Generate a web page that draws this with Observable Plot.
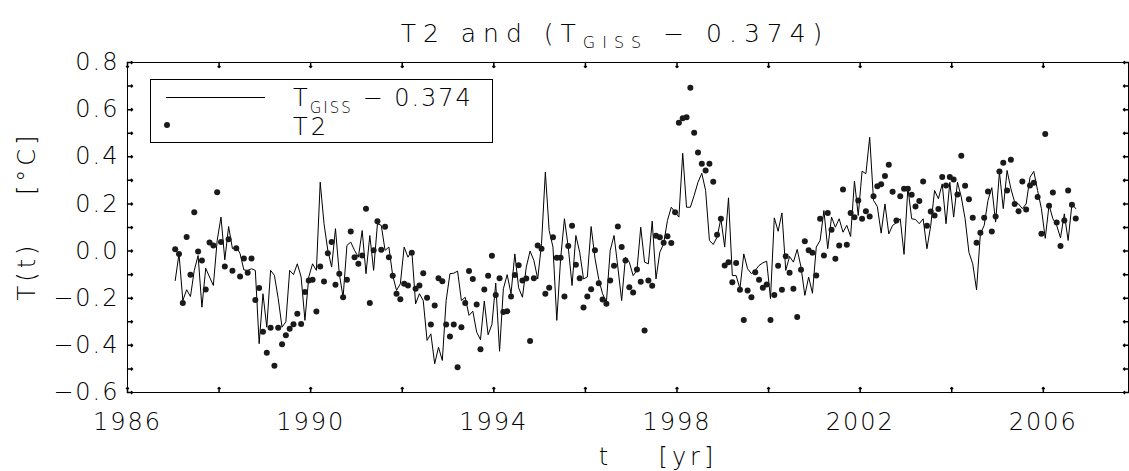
<!DOCTYPE html>
<html><head><meta charset="utf-8">
<script src="https://cdn.jsdelivr.net/npm/d3@7"></script>
<script src="https://cdn.jsdelivr.net/npm/@observablehq/plot@0.6"></script>
<style>
body{margin:0;background:#fff;}
#wrap{position:relative;width:1129px;height:471px;}
#wrap svg{letter-spacing:2px;}
</style></head><body><div id="wrap"></div>
<script>
// monthly series starting January of startYear
const startYear = 1987;
const gissMinus = [
-0.125,-0.012,-0.21,-0.164,-0.193,-0.082,-0.019,-0.238,-0.073,-0.11,-0.146,0.045,
0.144,-0.037,0.104,0.01,0.02,-0.011,-0.08,-0.082,-0.075,-0.082,-0.393,-0.181,
-0.323,-0.082,-0.103,-0.202,-0.323,-0.30,-0.082,-0.10,-0.054,-0.11,-0.294,-0.11,
-0.054,-0.082,0.292,0.116,0.003,-0.068,0.095,-0.096,-0.196,0.024,0.038,0.003,
-0.026,0.087,-0.096,0.066,-0.082,0.116,0.109,0.003,0.017,-0.104,-0.167,-0.139,
0.017,-0.026,0.003,-0.224,-0.181,-0.21,-0.379,-0.351,-0.478,-0.408,-0.464,-0.21,
-0.096,-0.094,-0.085,-0.21,-0.196,-0.273,-0.255,-0.344,-0.376,-0.212,-0.355,-0.311,
-0.136,-0.425,-0.16,-0.10,-0.181,-0.012,-0.156,-0.196,-0.068,0.0,-0.04,-0.118,
0.031,0.335,0.087,0.017,-0.294,-0.033,0.137,0.017,-0.146,0.066,-0.005,-0.118,
-0.11,0.104,-0.03,-0.12,-0.181,-0.217,0.003,0.066,-0.068,-0.21,-0.026,-0.047,
-0.104,-0.082,0.101,-0.047,-0.054,0.127,-0.118,-0.005,0.031,0.13,0.186,0.165,
0.144,0.415,0.186,0.186,0.236,0.292,0.33,0.257,0.045,0.028,0.059,0.137,
0.017,0.226,-0.104,-0.104,-0.16,-0.012,-0.075,-0.096,-0.082,-0.061,-0.05,-0.043,
-0.202,0.141,0.084,0.162,-0.082,-0.023,-0.047,0.007,-0.068,-0.188,-0.11,-0.179,
0.017,0.045,0.172,0.01,0.144,0.101,0.137,0.08,0.109,0.062,0.297,0.151,
0.339,0.328,0.483,0.215,0.189,0.076,0.2,0.073,0.109,0.12,0.137,-0.014,
0.269,0.137,0.134,0.116,0.137,0.01,0.109,0.257,0.222,0.285,0.116,0.292,
0.144,0.292,0.229,0.137,-0.005,-0.054,-0.164,0.073,0.109,0.215,0.269,0.123,
0.335,0.18,0.342,0.264,0.207,0.2,0.18,0.2,0.313,0.338,0.257,0.18,
0.054,0.195,0.137,0.109,0.056,0.158,0.045,0.2,0.18
];
const t2 = [
0.008,-0.012,-0.22,0.06,-0.10,0.165,-0.002,-0.04,-0.163,0.036,0.024,0.25,
0.038,-0.065,0.05,-0.084,0.012,-0.108,-0.031,-0.092,-0.031,-0.208,-0.157,-0.342,
-0.431,-0.325,-0.487,-0.325,-0.395,-0.357,-0.33,-0.31,-0.266,-0.309,-0.174,-0.125,
-0.122,-0.256,-0.065,-0.129,-0.009,0.038,-0.143,-0.096,-0.196,-0.122,0.083,-0.026,
-0.054,-0.019,0.18,-0.22,0.003,0.126,0.006,0.103,-0.026,-0.105,-0.181,-0.204,
-0.139,-0.146,-0.007,-0.16,-0.146,-0.094,-0.198,-0.311,-0.231,-0.115,-0.128,-0.311,
-0.362,-0.311,-0.493,-0.323,-0.22,-0.085,-0.118,-0.227,-0.416,-0.163,-0.105,-0.02,
-0.186,-0.115,-0.258,-0.255,-0.193,-0.102,-0.06,-0.125,-0.116,-0.382,-0.115,0.024,
0.01,-0.181,-0.156,0.059,-0.028,-0.028,-0.193,0.021,0.107,-0.058,-0.115,-0.239,
-0.193,-0.162,0.003,-0.136,-0.205,-0.224,-0.125,-0.062,0.104,0.017,-0.04,-0.153,
-0.176,-0.078,-0.13,-0.337,-0.125,-0.147,0.065,0.059,0.035,0.063,0.034,0.165,
0.544,0.564,0.568,0.693,0.502,0.418,0.37,0.342,0.37,0.294,0.069,0.137,
-0.061,-0.047,-0.132,-0.051,-0.164,-0.292,-0.167,-0.196,-0.09,-0.122,-0.156,-0.142,
-0.292,-0.186,-0.062,-0.164,-0.022,-0.092,-0.16,-0.28,-0.079,0.042,0.003,-0.007,
-0.104,0.137,-0.019,0.161,0.09,-0.033,0.024,0.261,0.027,0.162,0.144,0.215,
0.137,0.169,0.147,0.233,0.275,0.283,0.319,0.366,0.252,0.13,0.233,0.264,
0.264,0.239,0.189,0.212,0.295,0.107,0.168,0.151,0.178,0.314,0.278,0.314,
0.304,0.24,0.404,0.277,0.22,0.141,0.035,0.078,0.141,0.253,0.083,0.147,
0.338,0.375,0.257,0.387,0.2,0.169,0.295,0.176,0.278,0.29,0.229,0.073,
0.497,0.192,0.249,0.121,0.021,0.13,0.257,0.196,0.138
];
const xDomain = [1986, 2007.86];
const yDomain = [-0.6, 0.8];
const xTickLabels = [1986, 1990, 1994, 1998, 2002, 2006];
const xMinorTicks = [1986, 1988, 1990, 1992, 1994, 1996, 1998, 2000, 2002, 2004, 2006];
const yTickLabels = [-0.6, -0.4, -0.2, 0.0, 0.2, 0.4, 0.6, 0.8];
const yMinorTicks = [-0.6,-0.5,-0.4,-0.3,-0.2,-0.1,0,0.1,0.2,0.3,0.4,0.5,0.6,0.7,0.8];
const gissLabel = ["T", "GISS", " − 0.374"];
const t2Label = "T2";

const rows = gissMinus.map((v, i) => ({t: startYear + (i + 0.5) / 12, giss: v, t2: t2[i]}));

const FONT = "'DejaVu Sans', sans-serif";
const fmt = d => (d < 0 ? "−" : "") + Math.abs(d).toFixed(1);
const TICK = 5;

const chart = Plot.plot({
  width: 1129, height: 471,
  marginLeft: 127, marginRight: 1, marginTop: 62, marginBottom: 79,
  x: {domain: xDomain},
  y: {domain: yDomain},
  style: {fontFamily: FONT, fontSize: "24px", fontWeight: 200, color: "#000", background: "#fff", overflow: "visible"},
  marks: [
    Plot.frame({stroke: "#000", strokeWidth: 1}),
    // inward ticks on all four sides
    Plot.vector(yMinorTicks, {x: () => xDomain[0], y: d => d, length: TICK, rotate: 90, anchor: "start", stroke: "#000"}),
    Plot.vector(yMinorTicks, {x: () => xDomain[1], y: d => d, length: TICK, rotate: -90, anchor: "start", stroke: "#000"}),
    Plot.vector(xMinorTicks, {x: d => d, y: () => yDomain[0], length: TICK, rotate: 0, anchor: "start", stroke: "#000"}),
    Plot.vector(xMinorTicks, {x: d => d, y: () => yDomain[1], length: TICK, rotate: 180, anchor: "start", stroke: "#000"}),
    Plot.axisY(yTickLabels, {anchor: "left", tickSize: 0, tickPadding: 8, tickFormat: fmt, label: null}),
    Plot.axisX(xTickLabels, {anchor: "bottom", tickSize: 0, tickPadding: 20, tickFormat: d => String(d), label: null}),
    Plot.line(rows, {x: "t", y: "giss", stroke: "#000", strokeWidth: 1}),
    Plot.dot(rows, {x: "t", y: "t2", r: 3, fill: "#1a1a1a", stroke: "none"})
  ]
});
document.getElementById("wrap").appendChild(chart);

// text annotations (title, axis titles, legend) appended to the SVG
const svg = d3.select(chart);
const addText = (x, y, parts, opts = {}) => {
  const t = svg.append("text")
    .attr("x", x).attr("y", y)
    .attr("font-family", FONT).attr("font-weight", 200)
    .attr("font-size", opts.size || 24)
    .attr("letter-spacing", opts.ls || "2px")
    .attr("text-anchor", opts.anchor || "start")
    .attr("fill", "#000");
  if (opts.rotate) t.attr("transform", `rotate(-90 ${x} ${y})`);
  parts.forEach(p => {
    const s = t.append("tspan").text(p.text);
    if (p.sub) s.attr("font-size", opts.subSize || 16).attr("dy", p.dy);
    else if (p.dy) s.attr("dy", p.dy);
  });
  return t;
};
// title
addText(615, 42, [{text: "T2 and ("}, {text: gissLabel[0]}, {text: gissLabel[1], sub: true, dy: 6}, {text: gissLabel[2] + ")", dy: -6}], {anchor: "middle", ls: "7px", size: 25});
// axis titles
addText(658, 465, [{text: "t    [yr]"}], {anchor: "middle", ls: "4px"});
addText(35, 216, [{text: "T(t)    [°C]"}], {anchor: "middle", ls: "4px", rotate: true});

// legend
svg.append("rect").attr("x", 150.5).attr("y", 79.5).attr("width", 342).attr("height", 63)
  .attr("fill", "#fff").attr("stroke", "#000");
svg.append("line").attr("x1", 166).attr("x2", 265).attr("y1", 97.5).attr("y2", 97.5).attr("stroke", "#000");
svg.append("circle").attr("cx", 167).attr("cy", 125).attr("r", 3).attr("fill", "#1a1a1a");
addText(293, 106, [{text: gissLabel[0]}, {text: gissLabel[1], sub: true, dy: 7}, {text: gissLabel[2], dy: -7}], {ls: "2px", subSize: 15});
addText(293, 135, [{text: t2Label}], {ls: "3px"});
</script></body></html>
